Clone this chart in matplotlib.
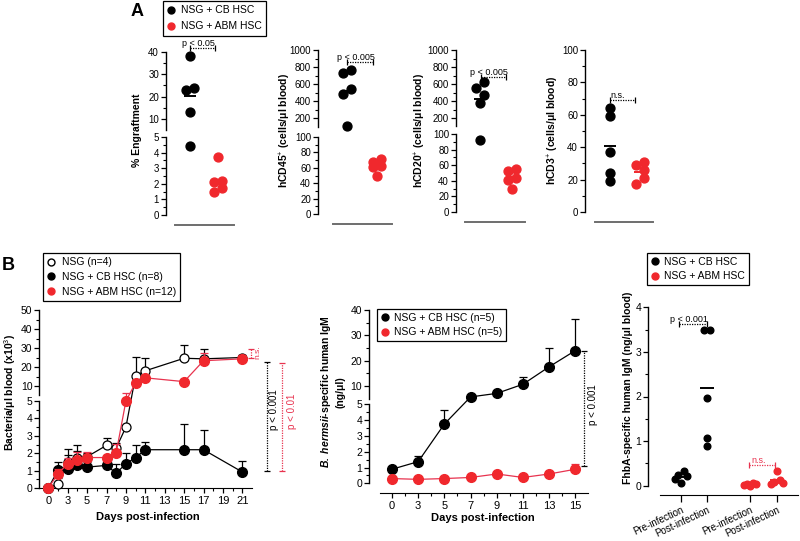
import numpy as np
import matplotlib.pyplot as plt
from matplotlib.lines import Line2D

plt.rcParams['font.family'] = ['Liberation Sans', 'DejaVu Sans']
plt.rcParams['mathtext.fontset'] = 'custom'
plt.rcParams['mathtext.rm'] = 'Liberation Sans'
plt.rcParams['mathtext.it'] = 'Liberation Sans:italic'
plt.rcParams['mathtext.bf'] = 'Liberation Sans:bold'
try:
    plt.rcParams['mathtext.bfit'] = 'Liberation Sans:bold:italic'
    HAS_BFIT = True
except KeyError:
    HAS_BFIT = False

# ---------------- data ----------------
# panel A (five mice per group)
eng_cb = [38, 23, 24, 13, 4.4]
eng_abm = [3.7, 2.1, 2.2, 1.75, 1.45]
cd45_cb = [730, 765, 541, 482, 106]
cd45_abm = [71, 68, 61, 62, 49]
cd20_cb = [557, 628, 474, 378, 92]
cd20_abm = [55, 53, 44, 41, 29]
cd3_cb = [59, 64, 37, 24, 19]
cd3_abm = [31, 29, 26, 21, 17]

# panel B left: bacteremia
days_b1 = [0, 2, 3, 4, 5, 7, 8, 9, 10, 11, 15, 17, 21]
nsg = [0, 0.25, 1.5, 1.7, 1.8, 2.45, 2.3, 3.5, 15.4, 18, 24.6, 24.3, 25]
nsg_err = [0, 0.3, 0.4, 0.4, 0.2, 0.4, 0.3, 0, 10, 7, 7, 5, 1.5]
cb = [0, 1.02, 1.1, 1.3, 1.2, 1.3, 0.85, 1.4, 1.75, 2.2, 2.2, 2.2, 0.92]
cb_err = [0, 0.45, 1.15, 1.2, 0.3, 0.2, 0.55, 0.63, 0.7, 0.44, 1.5, 1.15, 0.63]
abm = [0, 0.82, 1.4, 1.6, 1.75, 1.75, 2.03, 5.0, 11.7, 14.3, 12.3, 23.3, 24.3]
abm_err = [0, 0.3, 0.3, 0.45, 0.3, 0.15, 0.5, 1.2, 0, 0.8, 1.6, 3.9, 2]

# panel B middle: B. hermsii-specific IgM
days_b2 = [0, 3, 5, 7, 9, 11, 13, 15]
cb_igm = [0.89, 1.37, 3.75, 5.7, 7.1, 10.7, 17.6, 24]
cb_igm_err = [0, 0.35, 0.9, 0, 0, 3.0, 7.3, 12.3]
abm_igm = [0.3, 0.25, 0.3, 0.37, 0.59, 0.37, 0.59, 0.89]
abm_igm_err = [0, 0, 0, 0, 0, 0, 0, 0.33]

# panel B right: FhbA-specific IgM
fhba_groups = ['Pre-infection', 'Post-infection', 'Pre-infection', 'Post-infection']
fhba_cb_pre = [0.33, 0.25, 0.22, 0.15, 0.07]
fhba_cb_post = [3.48, 3.48, 1.97, 1.08, 0.89]
fhba_abm_pre = [0.06, 0.04, 0.03, 0.01, 0.0]
fhba_abm_post = [0.32, 0.12, 0.09, 0.06, 0.04]

# ---------------- style ----------------
W, H = 800, 541
RED = '#f0282d'
LRED = '#e8334f'
GRAY = '#6e6e6e'
TICK = 7
LAB = 7.5

fig = plt.figure(figsize=(W / 100, H / 100), dpi=100)


def rect(x0, y0, x1, y1):
    return [x0 / W, 1 - y1 / H, (x1 - x0) / W, (y1 - y0) / H]


def broken(a, b, hb, g, ht):
    def fwd(y):
        y = np.asarray(y, dtype=float)
        return np.where(y <= a, y / a * hb, hb + g + (y - a) / (b - a) * ht)

    def inv(t):
        t = np.asarray(t, dtype=float)
        return np.where(t <= hb + g / 2, t / hb * a, a + (t - hb - g) / ht * (b - a))
    return fwd, inv


def xcomp(k):
    def fwd(x):
        x = np.asarray(x, dtype=float)
        return np.where(x < k, 1 + x * (k - 1) / k, x)

    def inv(t):
        t = np.asarray(t, dtype=float)
        return np.where(t < k, (t - 1) * k / (k - 1), t)
    return fwd, inv


def split_spine(ax, a, b):
    tr = ax.get_yaxis_transform()
    ax.spines['left'].set_visible(False)
    ax.plot([0, 0], [0, a], transform=tr, color='k', lw=1, clip_on=False)
    ax.plot([0, 0], [a * 1.0001, b], transform=tr, color='k', lw=1, clip_on=False)


def yticks(ax, majors, minors, size=TICK):
    ax.set_yticks(majors, [f'{v:g}' for v in majors], fontsize=size)
    ax.set_yticks(minors, minor=True)
    ax.tick_params(axis='y', which='major', length=3.5, width=0.9, pad=1.5)
    ax.tick_params(axis='y', which='minor', length=2, width=0.8)


def swarm(ax, x0, vals, d_px, cycle=(1, -1)):
    # points closer than a marker in y are spread left/right of the group centre
    p = ax.transData.transform(np.column_stack([np.full(len(vals), x0), vals]))
    ys = p[:, 1]
    ppu = ax.transData.transform([[1, 0]])[0, 0] - ax.transData.transform([[0, 0]])[0, 0]
    offs = np.zeros(len(vals))
    prev, n = None, -1
    for i in np.argsort(-np.asarray(vals, dtype=float)):
        if prev is not None and abs(ys[prev] - ys[i]) < 0.9 * d_px:
            if n < 0:
                offs[prev], n = cycle[0], 1
            offs[i] = cycle[n % len(cycle)]
            n += 1
        else:
            n = -1
        prev = i
    return offs * 0.45 * d_px / ppu


def dots(ax, x0, vals, color, ms, half, cycle=(1, -1)):
    offs = swarm(ax, x0, vals, ms * 100 / 72, cycle)
    ax.plot(x0 + offs, vals, 'o', ms=ms, color=color, mec=color, ls='none',
            clip_on=False, zorder=3)
    m = np.mean(vals)
    ax.plot([x0 - half, x0 + half], [m, m], color=color, lw=1.4, zorder=4,
            clip_on=False, solid_capstyle='butt')


def bracket(ax, x0, x1, y, text, color='k', size=6.5):
    ax.plot([x0, x1], [y, y], ls=(0, (1, 1)), lw=0.9, color=color, marker='|',
            ms=4, mew=0.9, clip_on=False)
    ax.text((x0 + x1) / 2 - 0.15, y, text, ha='center', va='bottom',
            fontsize=size, color=color)


def vbracket(ax, x, y0, y1, color='k'):
    ax.plot([x, x], [y0, y1], ls=(0, (1, 1)), lw=0.9, color=color, marker='_',
            ms=4, mew=0.9, clip_on=False)


def upper_err(ax, x, y, e, color, z):
    x, y, e = map(np.asarray, (x, y, e))
    k = e > 0
    ax.errorbar(x[k], y[k], yerr=[np.zeros(k.sum()), e[k]], fmt='none', ecolor=color,
                elinewidth=0.9, capsize=3, capthick=0.9, zorder=z)


# ---------------- panel A ----------------
a_layout = [  # spine_x, black_x, red_x, line_x0, line_x1, y_zero, y_top
    (166, 190, 218, 175, 234, 215, 52),
    (318, 347, 377, 333, 392, 214, 50),
    (456, 480, 512, 465, 525, 212, 50),
    (585, 610, 640, 595, 653, 212, 50),
]
a_data = [(eng_cb, eng_abm), (cd45_cb, cd45_abm), (cd20_cb, cd20_abm), (cd3_cb, cd3_abm)]
a_scales = [broken(5, 40, 78, 7, 78), broken(100, 1000, 77, 10, 77),
            broken(100, 1000, 78, 7.5, 76.5), None]
a_top = [40, 1000, 1000, 100]
a_break = [5, 100, 100, None]
a_ticks = [([0, 1, 2, 3, 4, 5, 10, 20, 30, 40], [0.5, 1.5, 2.5, 3.5, 4.5, 15, 25, 35]),
           ([0, 20, 40, 60, 80, 100, 200, 400, 600, 800, 1000],
            [10, 30, 50, 70, 90, 300, 500, 700, 900]),
           ([0, 20, 40, 60, 80, 100, 200, 400, 600, 800, 1000],
            [10, 30, 50, 70, 90, 300, 500, 700, 900]),
           ([0, 20, 40, 60, 80, 100], [10, 30, 50, 70, 90])]
a_labels = ['% Engraftment', 'hCD45$^{+}$ (cells/μl blood)',
            'hCD20$^{+}$ (cells/μl blood)', 'hCD3$^{+}$ (cells/μl blood)']
a_label_x = [137, 285, 420, 553]
a_brackets = [(0, 0.9, 41.8, 'p < 0.05'), (0, 0.87, 862, 'p < 0.005'),
              (0.03, 0.81, 686, 'p < 0.005'), (0, 0.83, 69, 'n.s.')]

for i, (sx, bx, rx, l0, l1, y0, yt) in enumerate(a_layout):
    unit = rx - bx
    ax = fig.add_axes(rect(sx, yt, l1 + 1, y0))
    ax.set_xlim((sx - bx) / unit, (l1 + 1 - bx) / unit)
    if a_scales[i] is not None:
        ax.set_yscale('function', functions=a_scales[i])
        split_spine(ax, a_break[i], a_top[i])
    ax.set_ylim(0, a_top[i])
    yticks(ax, *a_ticks[i])
    for s in ['top', 'right']:
        ax.spines[s].set_visible(False)
    ax.spines['bottom'].set_position(('outward', 7))
    ax.spines['bottom'].set_bounds((l0 - bx) / unit, (l1 - bx) / unit)
    ax.spines['bottom'].set_color(GRAY)
    ax.spines['bottom'].set_linewidth(1.4)
    ax.spines['left'].set_linewidth(1)
    ax.set_xticks([])
    ax.patch.set_alpha(0)
    cbv, abv = a_data[i]
    dots(ax, 0, cbv, 'black', 6.4, 0.2)
    dots(ax, 1, abv, RED, 6.4, 0.2)
    x0, x1, yb, txt = a_brackets[i]
    bracket(ax, x0, x1, yb, txt)
    fig.text(a_label_x[i] / W, 1 - 130 / H, a_labels[i], rotation=90, ha='center',
             va='center', fontsize=LAB, weight='bold')

fig.legend([Line2D([], [], ls='none', marker='o', ms=5, color='black'),
            Line2D([], [], ls='none', marker='o', ms=5, color=RED)],
           ['NSG + CB HSC', 'NSG + ABM HSC'], loc='upper left',
           bbox_to_anchor=(163 / W, 1 - 1 / H), fontsize=LAB, frameon=True,
           fancybox=False, edgecolor='black', framealpha=1, borderaxespad=0,
           handlelength=0.8, handletextpad=0.5, labelspacing=0.6, borderpad=0.4
           ).get_frame().set_linewidth(0.9)

fig.text(131 / W, 1 - 12 / H, 'A', fontsize=13, weight='bold', va='center')
fig.text(2 / W, 1 - 266 / H, 'B', fontsize=13, weight='bold', va='center')

# ---------------- panel B left ----------------
ax = fig.add_axes(rect(39.3, 310, 252, 488))
ax.set_xscale('function', functions=xcomp(2))
ax.set_yscale('function', functions=broken(5, 50, 87, 5.5, 85.5))
ax.set_xlim(-1.86, 22)
ax.set_ylim(0, 50)
split_spine(ax, 5, 50)
for s in ['top', 'right']:
    ax.spines[s].set_visible(False)
ax.patch.set_alpha(0)
yticks(ax, [0, 1, 2, 3, 4, 5, 10, 20, 30, 40, 50],
       [0.5, 1.5, 2.5, 3.5, 4.5, 15, 25, 35, 45], size=7.5)
xt = [0, 3, 5, 7, 9, 11, 13, 15, 17, 19, 21]
ax.set_xticks(xt, [str(v) for v in xt], fontsize=8)
ax.set_xticks([2, 4, 6, 8, 10, 12, 14, 16, 18, 20], minor=True)
ax.tick_params(axis='x', which='major', length=3.5, width=0.9, pad=2)
ax.tick_params(axis='x', which='minor', length=2, width=0.8)

ax.plot(days_b1, nsg, '-o', color='black', mfc='white', mec='black', ms=6.5,
        lw=0.9, mew=0.9, zorder=3, clip_on=False)
upper_err(ax, days_b1, nsg, nsg_err, 'black', 2.5)
ax.plot(days_b1, cb, '-o', color='black', ms=7, lw=0.9, zorder=4, clip_on=False)
upper_err(ax, days_b1, cb, cb_err, 'black', 3.5)
ax.plot(days_b1, abm, '-o', color=LRED, mfc=RED, mec=RED, ms=7, lw=0.9, zorder=5,
        clip_on=False)
upper_err(ax, days_b1, abm, abm_err, LRED, 4.5)

vbracket(ax, 23.5, 1.0, 22.6)
ax.text(24.3, 4.5, 'p < 0.001', rotation=90, ha='center', va='center', fontsize=7)
vbracket(ax, 25.1, 1.0, 22, color=LRED)
ax.text(26.1, 4.4, 'p < 0.01', rotation=90, ha='center', va='center', fontsize=7,
        color=LRED)
vbracket(ax, 21.9, 25, 29.5, color=LRED)
ax.text(22.6, 28, 'n.s.', rotation=90, ha='center', va='center', fontsize=6,
        color=LRED)
fig.text(10 / W, 1 - 392 / H, 'Bacteria/μl blood (x10$^{3}$)', rotation=90,
         ha='center', va='center', fontsize=LAB, weight='bold')
fig.text(148 / W, 1 - 517 / H, 'Days post-infection', ha='center', va='center',
         fontsize=8, weight='bold')

leg = fig.legend([Line2D([], [], ls='none', marker='o', ms=5, mfc='white', mec='black'),
                  Line2D([], [], ls='none', marker='o', ms=5, color='black'),
                  Line2D([], [], ls='none', marker='o', ms=5, color=RED)],
                 ['NSG (n=4)', 'NSG + CB HSC (n=8)', 'NSG + ABM HSC (n=12)'],
                 loc='upper left', bbox_to_anchor=(43 / W, 1 - 253 / H), fontsize=LAB,
                 fancybox=False, edgecolor='black', framealpha=1, borderaxespad=0,
                 handlelength=0.8, handletextpad=0.6, labelspacing=0.45, borderpad=0.4)
leg.get_frame().set_linewidth(0.9)

# ---------------- panel B middle ----------------
ax = fig.add_axes(rect(369, 310, 589, 483.3))
ax.set_xscale('function', functions=xcomp(3))
ax.set_yscale('function', functions=broken(5, 40, 79, 5.6, 88.7))
ax.set_xlim(-2.63, 16.04)
ax.set_ylim(0, 40)
split_spine(ax, 5, 40)
for s in ['top', 'right']:
    ax.spines[s].set_visible(False)
ax.patch.set_alpha(0)
ax.spines['bottom'].set_position(('outward', 7))
ax.spines['bottom'].set_bounds(-1.38, 15.96)
yticks(ax, [0, 1, 2, 3, 4, 5, 10, 20, 30, 40],
       [0.5, 1.5, 2.5, 3.5, 4.5, 15, 25, 35], size=7.5)
xt = [0, 3, 5, 7, 9, 11, 13, 15]
ax.set_xticks(xt, [str(v) for v in xt], fontsize=8)
ax.set_xticks([1.5, 4, 6, 8, 10, 12, 14], minor=True)
ax.tick_params(axis='x', which='major', length=3.5, width=0.9, pad=2)
ax.tick_params(axis='x', which='minor', length=2, width=0.8)

ax.plot(days_b2, cb_igm, '-o', color='black', ms=7, lw=0.9, zorder=4, clip_on=False)
upper_err(ax, days_b2, cb_igm, cb_igm_err, 'black', 3.5)
ax.plot(days_b2, abm_igm, '-o', color=LRED, mfc=RED, mec=RED, ms=7, lw=0.9, zorder=5,
        clip_on=False)
upper_err(ax, days_b2, abm_igm, abm_igm_err, LRED, 4.5)
vbracket(ax, 15.66, 1.1, 24)
ax.text(16.34, 5, 'p < 0.001', rotation=90, ha='center', va='center', fontsize=7)

if HAS_BFIT:
    ylab2 = r'$\mathbfit{B.\ hermsii}$-specific human IgM' + '\n(ng/μl)'
else:
    ylab2 = 'B. hermsii-specific human IgM\n(ng/μl)'
fig.text(332 / W, 1 - 392 / H, ylab2, rotation=90, ha='center', va='center',
         fontsize=LAB, weight='bold', linespacing=1.3)
fig.text(483 / W, 1 - 518 / H, 'Days post-infection', ha='center', va='center',
         fontsize=8, weight='bold')
leg = fig.legend([Line2D([], [], ls='none', marker='o', ms=5, color='black'),
                  Line2D([], [], ls='none', marker='o', ms=5, color=RED)],
                 ['NSG + CB HSC (n=5)', 'NSG + ABM HSC (n=5)'],
                 loc='upper left', bbox_to_anchor=(377 / W, 1 - 309 / H), fontsize=LAB,
                 fancybox=False, edgecolor='black', framealpha=1, borderaxespad=0,
                 handlelength=0.8, handletextpad=0.5, labelspacing=0.45, borderpad=0.35)
leg.get_frame().set_linewidth(0.9)

# ---------------- panel B right ----------------
xpos = [0, 1, 2.65, 3.7]
ax = fig.add_axes(rect(648, 307.3, 798, 485.7))
ax.set_xlim(-1.27, 4.5)
ax.set_ylim(0, 4)
for s in ['top', 'right']:
    ax.spines[s].set_visible(False)
ax.patch.set_alpha(0)
ax.spines['bottom'].set_position(('outward', 7))
ax.spines['bottom'].set_bounds(-0.81, 4.5)
ax.spines['left'].set_linewidth(1)
yticks(ax, [0, 1, 2, 3, 4], [0.5, 1.5, 2.5, 3.5], size=7.5)
ax.set_xticks(xpos, fhba_groups, fontsize=7, rotation=25, ha='right',
              rotation_mode='anchor')
ax.tick_params(axis='x', length=5, width=0.9, pad=2)
for x0, vals, c in zip(xpos, [fhba_cb_pre, fhba_cb_post, fhba_abm_pre, fhba_abm_post],
                       ['black', 'black', RED, RED]):
    dots(ax, x0, vals, c, 4.8, 0.26, cycle=(1, -1, 2, -2, 0))
bracket(ax, -0.08, 1.0, 3.63, 'p < 0.001')
bracket(ax, 2.62, 3.62, 0.47, 'n.s.', color=LRED)
fig.text(628 / W, 1 - 388 / H, 'FhbA-specific human IgM (ng/μl blood)', rotation=90,
         ha='center', va='center', fontsize=LAB, weight='bold')
leg = fig.legend([Line2D([], [], ls='none', marker='o', ms=5, color='black'),
                  Line2D([], [], ls='none', marker='o', ms=5, color=RED)],
                 ['NSG + CB HSC', 'NSG + ABM HSC'],
                 loc='upper left', bbox_to_anchor=(647 / W, 1 - 253 / H), fontsize=LAB,
                 fancybox=False, edgecolor='black', framealpha=1, borderaxespad=0,
                 handlelength=0.8, handletextpad=0.5, labelspacing=0.45, borderpad=0.35)
leg.get_frame().set_linewidth(0.9)

fig.savefig('out.png', dpi=100)
